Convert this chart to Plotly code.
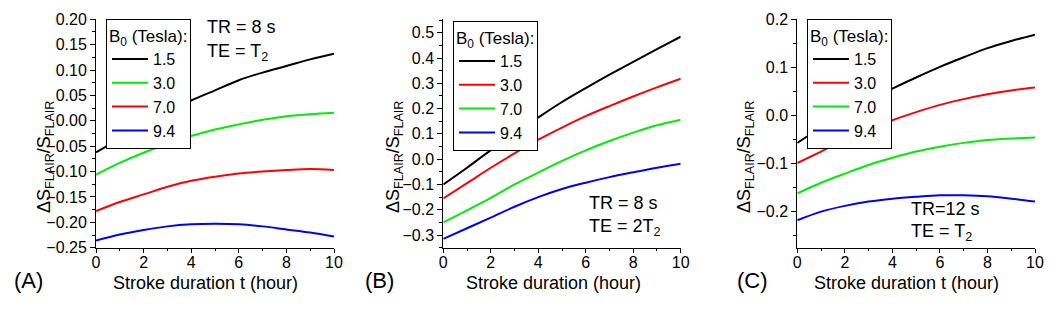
import plotly.graph_objects as go

W, H = 1060, 311
FONT = "Liberation Sans, Arial, sans-serif"

t_hours = [0, 1, 2, 3, 4, 5, 6, 7, 8, 9, 10]
field_labels = ["1.5", "3.0", "7.0", "9.4"]

# Panel A: TR = 8 s, TE = T2
a_15 = [-0.062, -0.035, -0.008, 0.017, 0.040, 0.060, 0.080, 0.095, 0.108, 0.121, 0.132]
a_30 = [-0.106, -0.083, -0.063, -0.046, -0.030, -0.017, -0.007, 0.002, 0.009, 0.013, 0.016]
a_70 = [-0.178, -0.160, -0.145, -0.130, -0.118, -0.110, -0.104, -0.100, -0.097, -0.095, -0.097]
a_94 = [-0.236, -0.224, -0.215, -0.208, -0.204, -0.203, -0.204, -0.208, -0.214, -0.220, -0.228]

# Panel B: TR = 8 s, TE = 2T2
b_15 = [-0.100, -0.034, 0.036, 0.102, 0.165, 0.226, 0.281, 0.334, 0.385, 0.435, 0.484]
b_30 = [-0.155, -0.095, -0.034, 0.023, 0.077, 0.125, 0.170, 0.210, 0.248, 0.284, 0.318]
b_70 = [-0.250, -0.202, -0.153, -0.100, -0.053, -0.007, 0.035, 0.072, 0.105, 0.134, 0.156]
b_94 = [-0.315, -0.273, -0.231, -0.188, -0.150, -0.118, -0.093, -0.071, -0.052, -0.034, -0.018]

# Panel C: TR = 12 s, TE = T2
c_15 = [-0.057, -0.025, 0.005, 0.032, 0.056, 0.079, 0.101, 0.121, 0.140, 0.155, 0.168]
c_30 = [-0.099, -0.075, -0.051, -0.030, -0.010, 0.007, 0.022, 0.034, 0.044, 0.052, 0.058]
c_70 = [-0.162, -0.140, -0.121, -0.103, -0.088, -0.075, -0.065, -0.057, -0.051, -0.048, -0.046]
c_94 = [-0.218, -0.200, -0.188, -0.179, -0.173, -0.169, -0.166, -0.166, -0.168, -0.173, -0.179]

panels = [
    dict(series=[a_15, a_30, a_70, a_94], colors=["#000000", "#00ee00", "#ff0000", "#0000ff"],
         xdom=(96, 334), yrange=[-0.25, 0.20], dtick=0.05, minor=0.025, fmt=".2f",
         legend=(106, 19), ytitle_x=46, xtitle="Stroke duration t (hour)", xtitle_x=205,
         label="(A)", label_x=28,
         notes=[("TR = 8 s", 205, 27), ("TE = T<sub>2</sub>", 205, 52)]),
    dict(series=[b_15, b_30, b_70, b_94], colors=["#000000", "#ff0000", "#00ee00", "#0000ff"],
         xdom=(443.3, 680.7), yrange=[-0.35, 0.553], dtick=0.1, minor=0.05, fmt=".1f",
         legend=(453, 21), ytitle_x=395, xtitle="Stroke duration (hour)", xtitle_x=553,
         label="(B)", label_x=379,
         notes=[("TR = 8 s", 587, 203), ("TE = 2T<sub>2</sub>", 587, 227)]),
    dict(series=[c_15, c_30, c_70, c_94], colors=["#000000", "#ff0000", "#00ee00", "#0000ff"],
         xdom=(797.3, 1035), yrange=[-0.275, 0.20], dtick=0.1, minor=0.05, fmt=".1f",
         legend=(807, 19), ytitle_x=746, xtitle="Stroke duration t (hour)", xtitle_x=906,
         label="(C)", label_x=752,
         notes=[("TR=12 s", 909, 209), ("TE = T<sub>2</sub>", 909, 233)]),
]

PLOT_TOP, PLOT_BOT = 19.3, 247.7
ydom = [1 - PLOT_BOT / H, 1 - PLOT_TOP / H]

fig = go.Figure()
annotations = []
layout = dict(
    template="none",
    width=W, height=H, margin=dict(l=0, r=0, t=0, b=0, pad=0, autoexpand=False),
    paper_bgcolor="white", plot_bgcolor="white",
    font=dict(family=FONT, size=16, color="black"),
    showlegend=True,
)

for i, p in enumerate(panels):
    n = i + 1
    xa = "x" if n == 1 else f"x{n}"
    ya = "y" if n == 1 else f"y{n}"
    lg = "legend" if n == 1 else f"legend{n}"
    for vals, col, lab in zip(p["series"], p["colors"], field_labels):
        fig.add_trace(go.Scatter(
            x=t_hours, y=vals, mode="lines", name=lab,
            line=dict(color=col, width=2), line_shape="spline",
            xaxis=xa, yaxis=ya, legend=lg,
        ))
    xkey = "xaxis" if n == 1 else f"xaxis{n}"
    ykey = "yaxis" if n == 1 else f"yaxis{n}"
    layout[xkey] = dict(
        domain=[p["xdom"][0] / W, p["xdom"][1] / W], anchor=ya, automargin=False,
        range=[0, 10], tickmode="linear", tick0=0, dtick=2,
        showline=True, linecolor="black", linewidth=1,
        ticks="outside", ticklen=4, tickcolor="black", tickwidth=1,
        ticklabelstandoff=-4,
        minor=dict(dtick=1, ticks="outside", ticklen=2, tickcolor="black"),
        showgrid=False, zeroline=False, tickfont=dict(size=16),
    )
    layout[ykey] = dict(
        domain=ydom, anchor=xa, range=p["yrange"], automargin=False,
        tickmode="linear", tick0=0, dtick=p["dtick"], tickformat=p["fmt"],
        showline=True, linecolor="black", linewidth=1,
        ticks="outside", ticklen=5, tickcolor="black", tickwidth=1,
        minor=dict(dtick=p["minor"], tick0=0, ticks="outside", ticklen=3, tickcolor="black"),
        showgrid=False, zeroline=False, tickfont=dict(size=16),
    )
    layout[lg] = dict(
        x=p["legend"][0] / W, y=1 - p["legend"][1] / H, xanchor="left", yanchor="top",
        xref="paper", yref="paper",
        bgcolor="white", bordercolor="black", borderwidth=1,
        font=dict(size=16, family=FONT), tracegroupgap=0,
        title=dict(text="B<sub>0</sub> (Tesla):", font=dict(size=17, family=FONT)),
        itemwidth=36, entrywidth=80, entrywidthmode="pixels",
    )
    annotations.append(dict(
        text="\u0394S<sub>FLAIR</sub>/S<sub>FLAIR</sub>", textangle=-90,
        x=p["ytitle_x"] / W, y=1 - 157 / H, xref="paper", yref="paper",
        xanchor="center", yanchor="middle", showarrow=False,
        font=dict(size=18, family=FONT)))
    annotations.append(dict(
        text=p["xtitle"], x=p["xtitle_x"] / W, y=1 - 283 / H, xref="paper", yref="paper",
        xanchor="center", yanchor="middle", showarrow=False,
        font=dict(size=18, family=FONT)))
    annotations.append(dict(
        text=p["label"], x=p["label_x"] / W, y=1 - 280 / H, xref="paper", yref="paper",
        xanchor="center", yanchor="middle", showarrow=False,
        font=dict(size=22, family=FONT)))
    for txt, nx, ny in p["notes"]:
        annotations.append(dict(
            text=txt, x=nx / W, y=1 - ny / H, xref="paper", yref="paper",
            xanchor="left", yanchor="middle", showarrow=False,
            font=dict(size=18, family=FONT)))

layout["annotations"] = annotations
fig.update_layout(**layout)
fig.write_html("out.html", config={"displayModeBar": False},
               post_script="document.body.style.margin='0';document.body.style.overflow='hidden';")
